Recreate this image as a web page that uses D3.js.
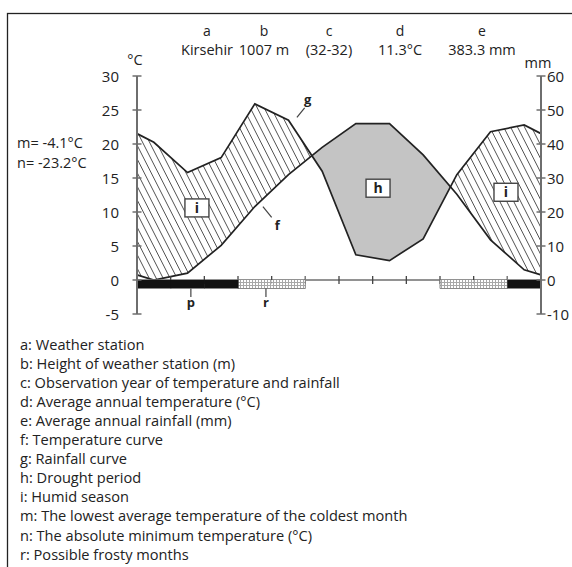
<!DOCTYPE html>
<html><head><meta charset="utf-8">
<script src="https://cdn.jsdelivr.net/npm/d3@7"></script>
<style>
body{margin:0;background:#fff;}
svg text{font-family:"Open Sans","Noto Sans",sans-serif;fill:#222;}
</style></head>
<body><svg id="c" width="572" height="567"></svg>
<script>
// ---- data ----
const months = ["Jan","Feb","Mar","Apr","May","Jun","Jul","Aug","Sep","Oct","Nov","Dec"];
const temperature = [0.0, 1.0, 5.1, 10.8, 15.5, 19.5, 23.0, 23.0, 18.4, 12.6, 5.9, 1.5];   // °C
const rainfall   = [40.5, 31.6, 36.0, 51.8, 47.0, 32.0, 7.4, 5.7, 12.1, 31.0, 43.6, 45.6]; // mm
const tempTicks = [30, 25, 20, 15, 10, 5, 0, -5];
const rainTicks = [60, 50, 40, 30, 20, 10, 0, -10];
const frostCertainMonths = [0, 1, 2, 11];
const frostPossibleMonths = [3, 4, 9, 10];
const headerKeys = ["a", "b", "c", "d", "e"];
const headerValues = ["Kirsehir", "1007 m", "(32-32)", "11.3°C", "383.3 mm"];
const sideNotes = ["m= -4.1°C", "n= -23.2°C"];
const legendItems = [
  "a: Weather station",
  "b: Height of weather station (m)",
  "c: Observation year of temperature and rainfall",
  "d: Average annual temperature (°C)",
  "e: Average annual rainfall (mm)",
  "f: Temperature curve",
  "g: Rainfall curve",
  "h: Drought period",
  "i: Humid season",
  "m: The lowest average temperature of the coldest month",
  "n: The absolute minimum temperature (°C)",
  "r: Possible frosty months"
];

// ---- scales ----
const svg = d3.select("#c");
const x = d3.scaleLinear().domain([0, 12]).range([137, 541]);
const y = d3.scaleLinear().domain([-5, 30]).range([314, 76]);
const yR = d3.scaleLinear().domain([-10, 60]).range([314, 76]);

// frame
svg.append("rect").attr("x",7.5).attr("y",13.5).attr("width",600).attr("height",600)
  .attr("fill","none").attr("stroke","#222").attr("stroke-width",1.3);

// defs
const defs = svg.append("defs");
const hatch = defs.append("pattern").attr("id","hatch").attr("patternUnits","userSpaceOnUse")
  .attr("width",6.2).attr("height",6.2).attr("patternTransform","rotate(-27)");
hatch.append("line").attr("x1",0).attr("y1",-1).attr("x2",0).attr("y2",8)
  .attr("stroke","#222").attr("stroke-width",1.4);
const grid = defs.append("pattern").attr("id","grid").attr("patternUnits","userSpaceOnUse")
  .attr("width",3).attr("height",3);
grid.append("rect").attr("width",3).attr("height",3).attr("fill","#fff");
grid.append("path").attr("d","M0,0.5H3M0.5,0V3").attr("stroke","#a8a8a8").attr("stroke-width",1);

// extended point series (wrap Dec/Jan to the edges)
function series(vals){
  const pts = vals.map((v,i)=>({m:i+0.5, v}));
  const edge = (vals[0]+vals[11])/2;
  return [{m:0, v:edge}, ...pts, {m:12, v:edge}];
}
const tPts = series(temperature);
const rPts = series(rainfall);

const tLine = d3.line().x(d=>x(d.m)).y(d=>y(d.v));
const rLine = d3.line().x(d=>x(d.m)).y(d=>yR(d.v));

// clip regions
defs.append("clipPath").attr("id","aboveT").append("path")
  .attr("d", d3.area().x(d=>x(d.m)).y0(d=>y(d.v)).y1(0)(tPts));
defs.append("clipPath").attr("id","belowT").append("path")
  .attr("d", d3.area().x(d=>x(d.m)).y0(d=>y(d.v)).y1(600)(tPts));

const rainBelow = d3.area().x(d=>x(d.m)).y0(d=>yR(d.v)).y1(600)(rPts);
const rainAbove = d3.area().x(d=>x(d.m)).y0(d=>yR(d.v)).y1(0)(rPts);

// humid: below rain & above temp
svg.append("path").attr("d", rainBelow).attr("clip-path","url(#aboveT)").attr("fill","url(#hatch)");
// drought: above rain & below temp
svg.append("path").attr("d", rainAbove).attr("clip-path","url(#belowT)").attr("fill","#c4c4c4");

// curves
svg.append("path").attr("d", rLine(rPts)).attr("fill","none").attr("stroke","#222").attr("stroke-width",1.7);
svg.append("path").attr("d", tLine(tPts)).attr("fill","none").attr("stroke","#222").attr("stroke-width",1.7);

// zero line + month ticks
const axG = "#6e6e6e";
svg.append("line").attr("x1",x(0)).attr("x2",x(12)).attr("y1",y(0)).attr("y2",y(0))
  .attr("stroke",axG).attr("stroke-width",1.3);
d3.range(1,12).forEach(k=>{
  svg.append("line").attr("x1",x(k)).attr("x2",x(k)).attr("y1",y(0)-4).attr("y2",y(0)+4)
    .attr("stroke","#444").attr("stroke-width",1.3);
});

// frost bars
const barTop = y(0), barH = 8.5;
frostPossibleMonths.forEach(m=>{
  svg.append("rect").attr("x",x(m)).attr("y",barTop).attr("width",x(m+1)-x(m)).attr("height",barH)
    .attr("fill","url(#grid)");
});
[[3,5],[9,11]].forEach(([a,b])=>{
  svg.append("path").attr("d",`M${x(a)},${barTop-4}V${barTop+barH}H${x(b)}V${barTop-4}`)
    .attr("fill","none").attr("stroke","#888").attr("stroke-width",1);
});
frostCertainMonths.forEach(m=>{
  svg.append("rect").attr("x",x(m)).attr("y",barTop).attr("width",x(m+1)-x(m)+0.5).attr("height",barH)
    .attr("fill","#111");
});

// axes
function vAxis(xpos, scale, ticks, right){
  svg.append("line").attr("x1",xpos).attr("x2",xpos).attr("y1",scale(ticks[0])).attr("y2",scale(ticks[ticks.length-1]))
    .attr("stroke",axG).attr("stroke-width",2);
  ticks.forEach(t=>{
    svg.append("line").attr("x1",xpos-4.5).attr("x2",xpos+4.5).attr("y1",scale(t)).attr("y2",scale(t))
      .attr("stroke",axG).attr("stroke-width",1.5);
    svg.append("text").attr("x", right? xpos+6 : xpos-18).attr("y",scale(t)+5.5)
      .attr("text-anchor", right? "start":"end").attr("font-size",15).text(t);
  });
}
vAxis(x(0), y, tempTicks, false);
vAxis(x(12), yR, rainTicks, true);

svg.append("text").attr("x",135).attr("y",65).attr("text-anchor","middle").attr("font-size",14.5).text("°C");
svg.append("text").attr("x",538).attr("y",68).attr("text-anchor","middle").attr("font-size",14.5).text("mm");

// header
const headerX = [207, 264, 329, 400, 482];
headerKeys.forEach((k,i)=>{
  svg.append("text").attr("x",headerX[i]).attr("y",35.5).attr("text-anchor","middle").attr("font-size",14).text(k);
  svg.append("text").attr("x",headerX[i]).attr("y",55).attr("text-anchor","middle").attr("font-size",14.5).text(headerValues[i]);
});

// side notes
sideNotes.forEach((s,i)=>{
  svg.append("text").attr("x",17).attr("y",148+i*20).attr("font-size",14.5).text(s);
});

// boxed labels
function boxLabel(m, t, s){
  const cx = x(m), cy = y(t);
  svg.append("rect").attr("x",cx-12).attr("y",cy-9).attr("width",24).attr("height",18)
    .attr("fill","#fff").attr("stroke","#444").attr("stroke-width",1.4);
  svg.append("text").attr("x",cx).attr("y",cy+5).attr("text-anchor","middle").attr("font-size",14)
    .attr("font-weight","bold").text(s);
}
boxLabel(1.78, 10.6, "i");
boxLabel(7.16, 13.5, "h");
boxLabel(10.96, 12.9, "i");

// leader labels
function leader(m1,t1,m2,t2,mt,tt,s){
  svg.append("line").attr("x1",x(m1)).attr("y1",y(t1)).attr("x2",x(m2)).attr("y2",y(t2))
    .attr("stroke","#444").attr("stroke-width",1.2);
  svg.append("text").attr("x",x(mt)).attr("y",y(tt)).attr("text-anchor","middle").attr("font-size",13)
    .attr("font-weight","bold").text(s);
}
leader(3.74,10.8,4.0,9.2,4.17,7.3,"f");
leader(4.75,23.9,4.98,25.3,5.07,25.9,"g");

// p & r markers
svg.append("line").attr("x1",x(1.6)).attr("x2",x(1.6)).attr("y1",barTop+barH).attr("y2",barTop+17).attr("stroke","#444").attr("stroke-width",1.2);
svg.append("text").attr("x",x(1.6)).attr("y",barTop+27).attr("text-anchor","middle").attr("font-size",13).attr("font-weight","bold").text("p");
svg.append("line").attr("x1",x(3.83)).attr("x2",x(3.83)).attr("y1",barTop+barH).attr("y2",barTop+17).attr("stroke","#444").attr("stroke-width",1.2);
svg.append("text").attr("x",x(3.83)).attr("y",barTop+27).attr("text-anchor","middle").attr("font-size",13).attr("font-weight","bold").text("r");

// legend
legendItems.forEach((s,i)=>{
  svg.append("text").attr("x",20).attr("y",349.5+i*19.1).attr("font-size",14.6).text(s);
});
</script></body></html>
